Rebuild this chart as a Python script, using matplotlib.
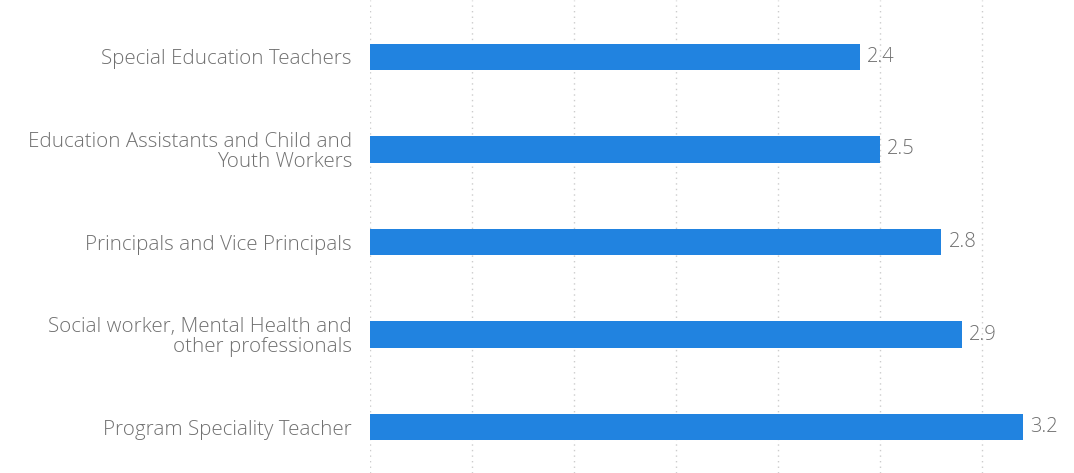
import matplotlib.pyplot as plt
from matplotlib.ticker import MultipleLocator

categories = [
    "Special Education Teachers",
    "Education Assistants and Child and\nYouth Workers",
    "Principals and Vice Principals",
    "Social worker, Mental Health and\nother professionals",
    "Program Speciality Teacher",
]
values = [2.4, 2.5, 2.8, 2.9, 3.2]

plt.rcParams["font.family"] = ["Open Sans", "DejaVu Sans"]

fig = plt.figure(figsize=(10.74, 4.73), dpi=100)
ax = fig.add_axes([370 / 1074, 0, 1 - 370 / 1074, 1])

y = list(range(len(categories)))
ax.barh(y, values, height=0.29, color="#2183e0", zorder=3)
for yi, v in zip(y, values):
    ax.text(v + 0.035, yi, f"{v}", va="center", ha="left",
            fontsize=14.5, fontweight="light", color="#707070", zorder=4)

ax.set_xlim(0, 3.45)
ax.set_ylim(4.497, -0.616)
ax.xaxis.set_major_locator(MultipleLocator(0.5))
ax.grid(axis="x", linestyle=(0, (1, 3)), color="#cccccc", linewidth=1, zorder=0)
ax.set_xticklabels([])
ax.tick_params(axis="x", length=0)

ax.set_yticks(y)
ax.set_yticklabels(categories, fontsize=14.8, fontweight="light",
                   color="#707070", ha="right", linespacing=1.0)
ax.tick_params(axis="y", length=0, pad=13)
for s in ax.spines.values():
    s.set_visible(False)

fig.savefig("out.png", dpi=100)
